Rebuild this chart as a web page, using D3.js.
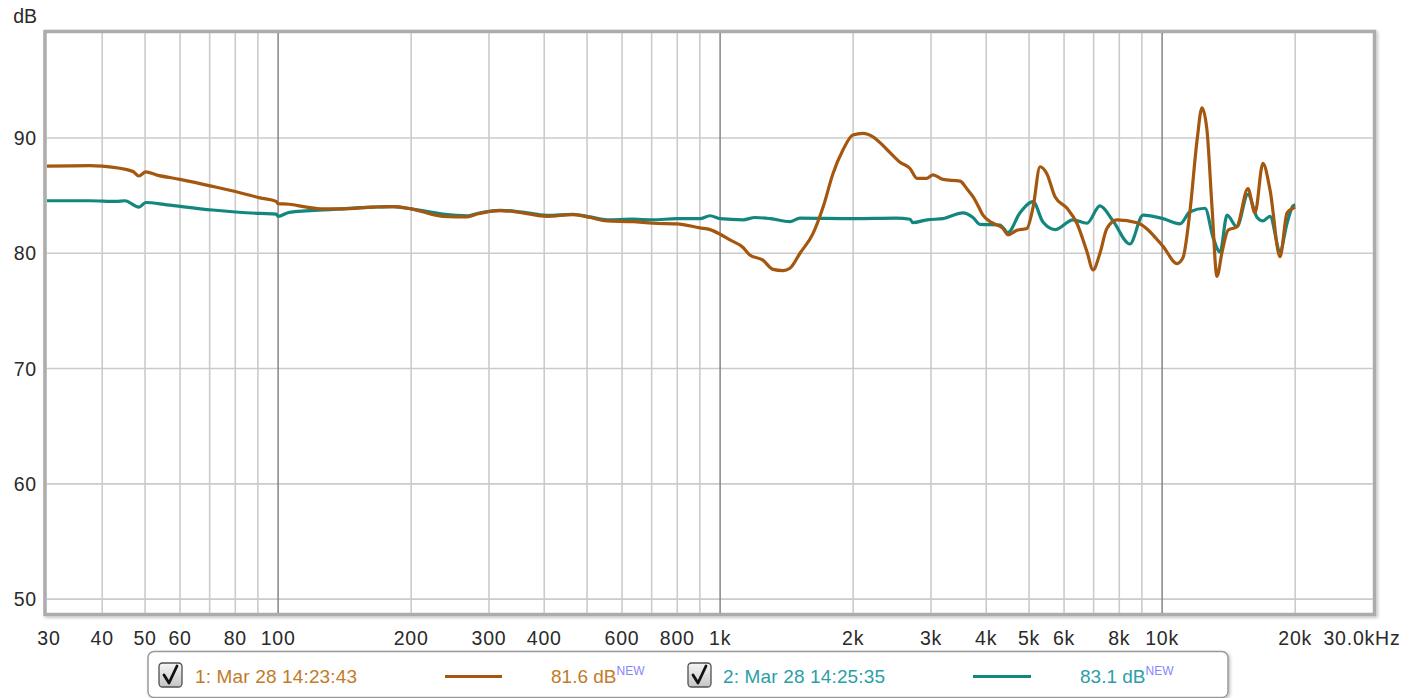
<!DOCTYPE html>
<html>
<head>
<meta charset="utf-8">
<script src="https://cdn.jsdelivr.net/npm/d3@7"></script>
<style>
  body { margin: 0; background: #ffffff; }
  svg { display: block; font-family: "Liberation Sans", Arial, sans-serif; }
</style>
</head>
<body>
<svg id="chart" width="1412" height="698"></svg>
<script>
// Measurement 1 (brown): frequency in Hz and SPL in dB
const brownFreq = [30, 37.5, 40, 46.9, 48.4, 50.2, 53, 60, 71, 82, 91, 99, 100, 106, 116, 126, 140, 164, 182, 200,
  236, 268, 282, 318, 352, 406, 465, 508, 555, 635, 705, 798, 900, 949, 1000, 1053, 1127, 1167, 1250, 1317,
  1387, 1439, 1516, 1622, 1710, 1800, 1896, 1997, 2105, 2218, 2384, 2553, 2689, 2790, 2937, 3031, 3193, 3489,
  3616, 3733, 3813, 3933, 4078, 4143, 4365, 4478, 4695, 4944, 5106, 5295, 5485, 5724, 6096, 6414, 6759, 6978,
  7233, 7500, 7908, 8772, 10047, 10809, 11145, 11565, 11997, 12309, 12630, 12969, 13308, 13650, 14097, 14760,
  15636, 16224, 16908, 17544, 18483, 19173, 19776, 20000];
const brownDb = [87.55, 87.6, 87.55, 87.1, 86.7, 87.05, 86.8, 86.4, 85.8, 85.25, 84.8, 84.5, 84.3, 84.25, 84.0, 83.85, 83.85, 84.0, 84.05, 83.85,
  83.2, 83.15, 83.4, 83.7, 83.55, 83.2, 83.35, 83.1, 82.8, 82.74, 82.6, 82.55, 82.2, 82.05, 81.65, 81.15, 80.5, 79.85, 79.4, 78.6,
  78.5, 78.7, 80.0, 81.7, 84.0, 86.9, 88.95, 90.25, 90.4, 90.1, 89.0, 87.9, 87.35, 86.5, 86.5, 86.8, 86.4, 86.25,
  85.6, 84.9, 84.3, 83.3, 82.75, 82.6, 82.15, 81.6, 82.0, 82.15, 84.0, 87.5, 86.9, 84.9, 83.9, 82.6, 80.15, 78.55,
  80.0, 82.15, 82.9, 82.65, 80.6, 79.1, 79.6, 83.7, 89.8, 92.6, 90.7, 84.0, 78.0, 80.0, 82.0, 82.3,
  85.6, 83.5, 87.8, 85.5, 79.7, 83.5, 83.9, 84.0];

// Measurement 2 (teal)
const tealFreq = [30, 37.5, 43, 45, 48.4, 50.2, 56, 71, 91, 99, 100, 106, 133, 164, 182, 200, 236, 268, 282, 318,
  352, 406, 465, 508, 555, 635, 705, 798, 900, 949, 1000, 1127, 1200, 1300, 1439, 1516, 2000, 2500, 2689, 2730,
  2937, 3193, 3543, 3733, 3873, 4296, 4478, 4767, 5106, 5376, 5724, 6289, 6759, 7233, 7746, 8454, 9054, 10047,
  10977, 11565, 12507, 13035, 13524, 14025, 14760, 15636, 16404, 16908, 17544, 18483, 19173, 19776, 20000];
const tealDb = [84.55, 84.55, 84.5, 84.55, 84.0, 84.4, 84.2, 83.75, 83.45, 83.4, 83.2, 83.55, 83.8, 84.0, 84.05, 83.85, 83.4, 83.25, 83.45, 83.72,
  83.6, 83.28, 83.38, 83.15, 82.9, 82.95, 82.9, 83.0, 83.0, 83.25, 83.0, 82.9, 83.1, 83.0, 82.75, 83.05, 83.0, 83.05, 82.95, 82.65,
  82.9, 83.0, 83.5, 83.1, 82.5, 82.45, 81.8, 83.5, 84.47, 82.7, 82.05, 82.9, 82.6, 84.1, 82.8, 80.8, 83.3, 83.0,
  82.55, 83.6, 83.9, 81.4, 80.1, 83.3, 82.3, 85.1, 83.1, 82.8, 83.2, 80.2, 82.6, 84.1, 84.2];

// Axis ticks and gridlines
const xTickValues = [30, 40, 50, 60, 80, 100, 200, 300, 400, 600, 800, 1000, 2000, 3000, 4000, 5000, 6000, 8000, 10000, 20000];
const xEndLabel = "30.0kHz";
const yTickValues = [50, 60, 70, 80, 90];
const minorGrid = [40, 50, 60, 70, 80, 90, 200, 300, 400, 500, 600, 700, 800, 900,
  2000, 3000, 4000, 5000, 6000, 7000, 8000, 9000, 20000];
const decadeGrid = [100, 1000, 10000];

// Legend
const legendNames = ["1: Mar 28 14:23:43", "2: Mar 28 14:25:35"];
const legendLevels = ["81.6 dB", "83.1 dB"];

const brownLine = "#a5560f";
const tealLine = "#13877f";
const brownText = "#c27b28";
const tealText = "#2aa0a6";

const svg = d3.select("#chart");
const L = 47, R = 1373, T = 33, B = 613;

const x = d3.scaleLog().domain([30, 30000]).range([L, R]);
const y = d3.scaleLinear().domain([48.8, 99.1]).range([B, T]);

const defs = svg.append("defs");
const sh = defs.append("filter").attr("id", "shadow").attr("x", "-5%").attr("y", "-5%").attr("width", "110%").attr("height", "110%");
sh.append("feDropShadow").attr("dx", 1.5).attr("dy", 1.5).attr("stdDeviation", 1.5).attr("flood-color", "#000").attr("flood-opacity", 0.25);
defs.append("clipPath").attr("id", "plotclip").append("rect")
  .attr("x", L).attr("y", T).attr("width", R - L).attr("height", B - T);
const cbGrad = defs.append("linearGradient").attr("id", "cbgrad").attr("x1", 0).attr("y1", 0).attr("x2", 0).attr("y2", 1);
cbGrad.append("stop").attr("offset", "0%").attr("stop-color", "#f6f6f6");
cbGrad.append("stop").attr("offset", "100%").attr("stop-color", "#c4c4c4");

// Plot frame
svg.append("rect")
  .attr("x", L - 2).attr("y", T - 1.5).attr("width", R - L + 3.5).attr("height", B - T + 3)
  .attr("fill", "#ffffff").attr("stroke", "#acacac").attr("stroke-width", 3.5)
  .attr("filter", "url(#shadow)");

const plot = svg.append("g").attr("clip-path", "url(#plotclip)");

// Gridlines
plot.selectAll("line.minor").data(minorGrid).join("line")
  .attr("x1", d => x(d)).attr("x2", d => x(d)).attr("y1", T).attr("y2", B)
  .attr("stroke", "#cbcbcb").attr("stroke-width", 1.6);
plot.selectAll("line.h").data(yTickValues).join("line")
  .attr("x1", L).attr("x2", R).attr("y1", d => y(d)).attr("y2", d => y(d))
  .attr("stroke", "#cbcbcb").attr("stroke-width", 1.6);
plot.selectAll("line.major").data(decadeGrid).join("line")
  .attr("x1", d => x(d)).attr("x2", d => x(d)).attr("y1", T).attr("y2", B)
  .attr("stroke", "#858585").attr("stroke-width", 1.5);

// Traces
const line = d3.line().x(d => x(d[0])).y(d => y(d[1])).curve(d3.curveMonotoneX);
plot.append("path").datum(tealFreq.map((f, i) => [f, tealDb[i]]))
  .attr("d", line).attr("fill", "none").attr("stroke", tealLine).attr("stroke-width", 3.2)
  .attr("stroke-linejoin", "round");
plot.append("path").datum(brownFreq.map((f, i) => [f, brownDb[i]]))
  .attr("d", line).attr("fill", "none").attr("stroke", brownLine).attr("stroke-width", 3.2)
  .attr("stroke-linejoin", "round");

// Axes labels
const fmt = d => d >= 1000 ? (d / 1000) + "k" : String(d);
svg.append("g").selectAll("text").data(xTickValues).join("text")
  .attr("x", d => d === 30 ? x(d) + 2 : x(d)).attr("y", 645)
  .attr("text-anchor", "middle").attr("font-size", 19.5).attr("letter-spacing", 0.8).attr("fill", "#2a2a2a")
  .text(fmt);
svg.append("text").attr("x", x(30000) - 11).attr("y", 645).attr("text-anchor", "middle")
  .attr("font-size", 19.5).attr("letter-spacing", 0.8).attr("fill", "#2a2a2a").text(xEndLabel);

svg.append("g").selectAll("text").data(yTickValues).join("text")
  .attr("x", 37).attr("y", d => y(d) + 7)
  .attr("text-anchor", "end").attr("font-size", 19.5).attr("letter-spacing", 0.8).attr("fill", "#2a2a2a")
  .text(d => d);
svg.append("text").attr("x", 37).attr("y", 23).attr("text-anchor", "end")
  .attr("font-size", 19.5).attr("fill", "#2a2a2a").text("dB");

// Legend panel
const lg = svg.append("g");
lg.append("rect").attr("x", 148).attr("y", 651.5).attr("width", 1080).attr("height", 46).attr("rx", 6)
  .attr("fill", "#ffffff").attr("stroke", "#9a9a9a").attr("stroke-width", 1.5).attr("filter", "url(#shadow)");

const items = [
  { name: legendNames[0], level: legendLevels[0], line: brownLine, text: brownText, cb: 159, nx: 195, lx: [445, 502], vx: 551 },
  { name: legendNames[1], level: legendLevels[1], line: tealLine, text: tealText, cb: 688, nx: 723, lx: [973, 1031], vx: 1080 }
];
items.forEach(it => {
  lg.append("rect").attr("x", it.cb).attr("y", 663).attr("width", 23).attr("height", 24).attr("rx", 3.5)
    .attr("fill", "url(#cbgrad)").attr("stroke", "#505050").attr("stroke-width", 1.3);
  lg.append("path")
    .attr("d", `M${it.cb + 5},${675} L${it.cb + 10},${683} L${it.cb + 18},${666}`)
    .attr("fill", "none").attr("stroke", "#111").attr("stroke-width", 2.8).attr("stroke-linecap", "round").attr("stroke-linejoin", "round");
  lg.append("text").attr("x", it.nx).attr("y", 683).attr("font-size", 19).attr("letter-spacing", 0.15).attr("fill", it.text).text(it.name);
  lg.append("line").attr("x1", it.lx[0]).attr("x2", it.lx[1]).attr("y1", 676.5).attr("y2", 676.5)
    .attr("stroke", it.line).attr("stroke-width", 3);
  const t = lg.append("text").attr("x", it.vx).attr("y", 683).attr("font-size", 19).attr("fill", it.text);
  t.append("tspan").text(it.level);
  t.append("tspan").attr("dy", -8).attr("font-size", 12).attr("fill", "#8585ff").text("NEW");
});
</script>
</body>
</html>
